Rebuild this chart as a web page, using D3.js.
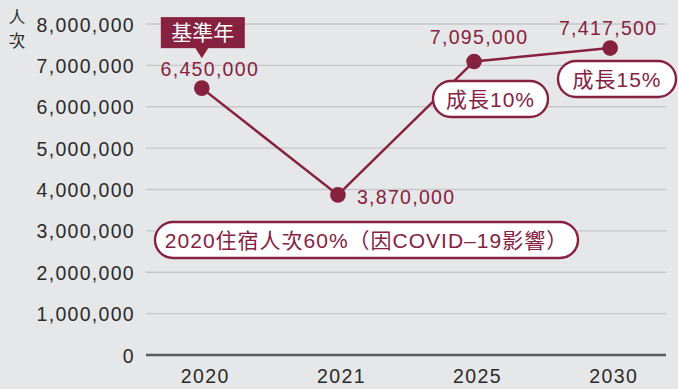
<!DOCTYPE html>
<html>
<head>
<meta charset="utf-8">
<script src="https://cdn.jsdelivr.net/npm/d3@7"></script>
<style>
  html, body { margin: 0; padding: 0; background: #e6e7e8; }
  svg { display: block; }
  text { font-family: "Liberation Sans", "Noto Sans CJK TC", sans-serif; }
</style>
</head>
<body>
<svg id="chart" width="678" height="389"></svg>
<script>
// Overnight visitors (人次) by year
const years = ["2020", "2021", "2025", "2030"];
const visitors = [6450000, 3870000, 7095000, 7417500];
const valueLabels = ["6,450,000", "3,870,000", "7,095,000", "7,417,500"];
const yTicks = [0, 1000000, 2000000, 3000000, 4000000, 5000000, 6000000, 7000000, 8000000];
const yTitle = ["人", "次"];
const baseTag = "基準年";
const notes = ["2020住宿人次60%（因COVID–19影響）", "成長10%", "成長15%"];

const maroon = "#86213f";
const W = 678, H = 389;
const svg = d3.select("#chart");

svg.append("rect").attr("width", W).attr("height", H).attr("fill", "#e6e7e8");

const x = d3.scalePoint().domain(years).range([146, 666]).padding(0.41);
const y = d3.scaleLinear().domain([0, 8000000]).range([355, 24]);

// horizontal gridlines
svg.append("g").selectAll("line")
  .data(yTicks.filter(d => d > 0))
  .join("line")
  .attr("x1", 146).attr("x2", 666)
  .attr("y1", d => y(d)).attr("y2", d => y(d))
  .attr("stroke", "#c6c7c9").attr("stroke-width", 1.4);

// baseline
svg.append("line")
  .attr("x1", 146).attr("x2", 666)
  .attr("y1", y(0)).attr("y2", y(0))
  .attr("stroke", "#5a5a5a").attr("stroke-width", 2.6);

// y axis tick labels
const yAxis = d3.axisLeft(y).tickValues(yTicks).tickSize(0).tickPadding(0)
  .tickFormat(d3.format(","));
const gy = svg.append("g").attr("transform", "translate(135,0)").call(yAxis);
gy.select(".domain").remove();
gy.selectAll("text")
  .attr("fill", "#2b2b2b")
  .style("font-size", "19.5px")
  .style("letter-spacing", "1.3px")
  .attr("dy", "0.36em");

// x axis labels
const xAxis = d3.axisBottom(x).tickSize(0).tickPadding(0);
const gx = svg.append("g").attr("transform", "translate(3,369)").call(xAxis);
gx.select(".domain").remove();
gx.selectAll("text")
  .attr("fill", "#2b2b2b")
  .style("font-size", "19.5px")
  .style("letter-spacing", "1.4px")
  .attr("dy", "0.71em");

// y title, stacked vertically
svg.append("g").selectAll("text")
  .data(yTitle)
  .join("text")
  .attr("x", 17).attr("y", (d, i) => 23 + i * 24)
  .attr("text-anchor", "middle")
  .attr("fill", "#2b2b2b")
  .style("font-family", "'Noto Sans CJK TC', sans-serif")
  .style("font-size", "16.5px")
  .text(d => d);

const pts = years.map((yr, i) => ({ yr, v: visitors[i], label: valueLabels[i], cx: x(yr), cy: y(visitors[i]) }));

// connecting line
svg.append("path")
  .datum(pts)
  .attr("fill", "none")
  .attr("stroke", maroon)
  .attr("stroke-width", 2.5)
  .attr("d", d3.line().x(d => d.cx).y(d => d.cy));

// annotation pills
const pills = [
  { text: notes[0], x0: 155, y0: 222, w: 423, h: 36 },
  { text: notes[1], x0: 433, y0: 81, w: 115, h: 36 },
  { text: notes[2], x0: 558, y0: 61, w: 118, h: 36 }
];
const pg = svg.append("g").selectAll("g").data(pills).join("g");
pg.append("rect")
  .attr("x", d => d.x0).attr("y", d => d.y0)
  .attr("width", d => d.w).attr("height", d => d.h)
  .attr("rx", 18).attr("ry", 18)
  .attr("fill", "#ffffff")
  .attr("stroke", maroon).attr("stroke-width", 2.4);
pg.append("text")
  .attr("x", d => d.x0 + d.w / 2).attr("y", d => d.y0 + d.h / 2 + 7.5)
  .attr("text-anchor", "middle")
  .attr("fill", maroon)
  .style("font-size", "21px")
  .style("letter-spacing", "1px")
  .text(d => d.text);

// points
svg.append("g").selectAll("circle")
  .data(pts)
  .join("circle")
  .attr("cx", d => d.cx).attr("cy", d => d.cy)
  .attr("r", 7.8)
  .attr("fill", maroon);

// value labels
const labelOffsets = [[8, -12, "middle"], [19, 9, "start"], [5, -17, "middle"], [-2, -13, "middle"]];
svg.append("g").selectAll("text")
  .data(pts)
  .join("text")
  .attr("x", (d, i) => d.cx + labelOffsets[i][0])
  .attr("y", (d, i) => d.cy + labelOffsets[i][1])
  .attr("text-anchor", (d, i) => labelOffsets[i][2])
  .attr("fill", maroon)
  .style("font-size", "19.5px")
  .style("letter-spacing", "1.3px")
  .text(d => d.label);

// base-year tag above 2020
const p0 = pts[0];
const tag = svg.append("g");
const tx = p0.cx, tipY = p0.cy - 30;
tag.append("rect")
  .attr("x", tx - 41).attr("y", tipY - 41)
  .attr("width", 84).attr("height", 31)
  .attr("fill", maroon);
tag.append("path")
  .attr("d", `M${tx - 7},${tipY - 11} L${tx + 7},${tipY - 11} L${tx},${tipY} Z`)
  .attr("fill", maroon);
tag.append("text")
  .attr("x", tx + 1).attr("y", tipY - 18)
  .attr("text-anchor", "middle")
  .attr("fill", "#ffffff")
  .style("font-family", "'Noto Sans CJK TC', sans-serif")
  .style("font-size", "21px")
  .text(baseTag);
</script>
</body>
</html>
